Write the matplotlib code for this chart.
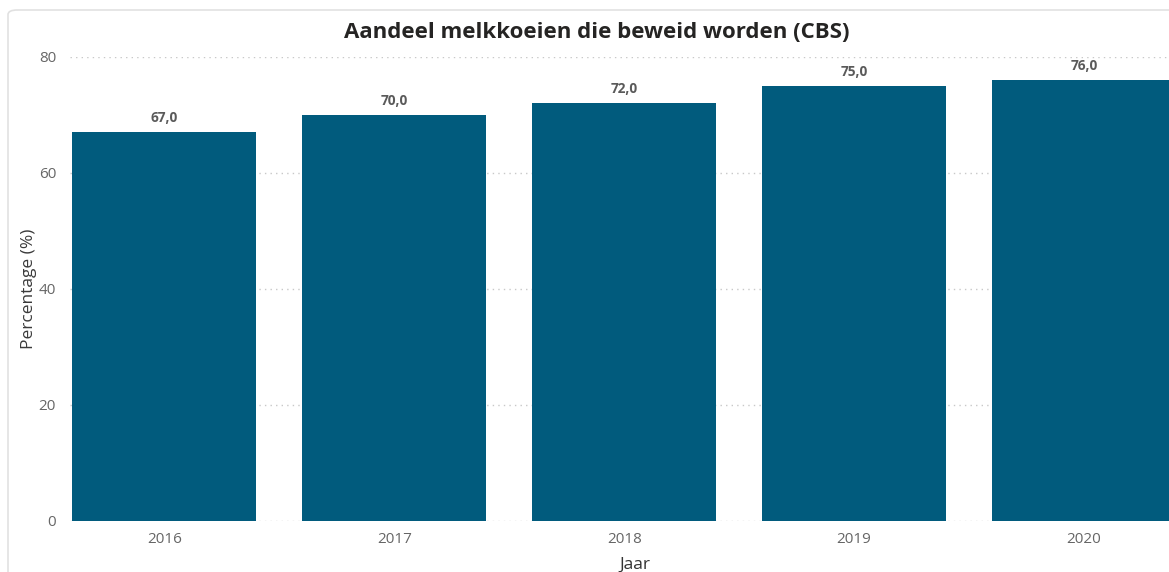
import matplotlib
matplotlib.use("Agg")
import matplotlib.pyplot as plt
from matplotlib.patches import FancyBboxPatch

years = ["2016", "2017", "2018", "2019", "2020"]
values = [67.0, 70.0, 72.0, 75.0, 76.0]
yticks = [0, 20, 40, 60, 80]

plt.rcParams['font.family'] = ['Open Sans', 'DejaVu Sans']

W, H = 1169, 572
fig = plt.figure(figsize=(W / 100, H / 100), dpi=100)

# light frame (cropped card)
frame = FancyBboxPatch((8 / W, -0.05), 1.2, (H - 10) / H + 0.05,
                       boxstyle="round,pad=0,rounding_size=0.008",
                       transform=fig.transFigure, fill=False,
                       edgecolor="#E1E1E1", linewidth=1.2, clip_on=False)
fig.patches.append(frame)

left_px, right_px = 70, 1199
top_px, bot_px = 57, 521
ax = fig.add_axes([left_px / W, (H - bot_px) / H, (right_px - left_px) / W, (bot_px - top_px) / H])

x = list(range(len(years)))
bars = ax.bar(x, values, width=0.8, color="#015B7D", zorder=3)
ax.set_xlim(-0.41, 4.5)
ax.set_ylim(0, 80)
ax.set_yticks(yticks)
ax.set_xticks(x)
ax.set_xticklabels(years)

for xi, v in zip(x, values):
    ax.text(xi, v + 1.2, f"{v:.1f}".replace(".", ","), ha="center", va="bottom",
            fontsize=9.8, fontweight="bold", color="#5A5A5A")

ax.grid(axis="y", linestyle=(0, (1, 3)), color="#C8C8C8", linewidth=1, zorder=0)
for s in ax.spines.values():
    s.set_visible(False)
ax.tick_params(axis="both", length=0, labelsize=11, colors="#666666")
ax.tick_params(axis="x", pad=8)
ax.tick_params(axis="y", pad=10)

ax.set_ylabel("Percentage (%)", fontsize=12.5, color="#3A3A3A", labelpad=1)
ax.set_xlabel("Jaar", fontsize=12.5, color="#333333", labelpad=7)

fig.text(597 / W, 1 - 32 / H, "Aandeel melkkoeien die beweid worden (CBS)",
         ha="center", va="center", fontsize=16, fontweight="bold", color="#252423")

fig.savefig("out.png", dpi=100, facecolor="white")
